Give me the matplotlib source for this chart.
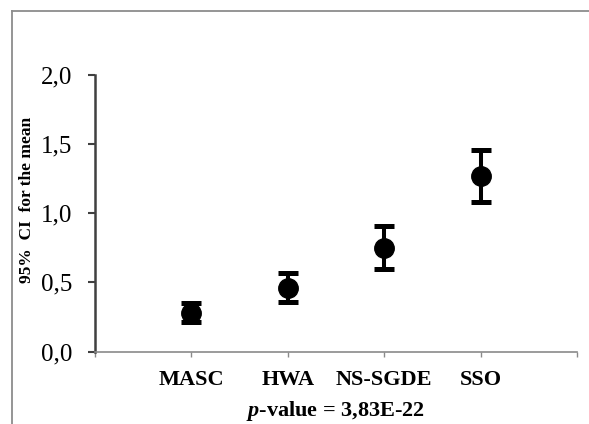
import matplotlib
matplotlib.use("Agg")
import matplotlib.pyplot as plt
from matplotlib.lines import Line2D

plt.rcParams['font.family'] = ['Liberation Serif', 'DejaVu Serif']
plt.rcParams['mathtext.fontset'] = 'custom'
plt.rcParams['mathtext.rm'] = 'Liberation Serif:bold'
plt.rcParams['mathtext.it'] = 'Liberation Serif:italic:bold'
plt.rcParams['mathtext.bf'] = 'Liberation Serif:bold'

categories = ['MASC', 'HWA', 'NS-SGDE', 'SSO']
means = [0.28, 0.46, 0.75, 1.27]
upper = [0.35, 0.57, 0.907, 1.456]
lower = [0.214, 0.354, 0.597, 1.08]
yticks = [0.0, 0.5, 1.0, 1.5, 2.0]
ytick_labels = ['0,0', '0,5', '1,0', '1,5', '2,0']
xlabel_text = r'$p$-value = 3,83E-22'
ylabel_text = '95%  CI  for the mean'

fig = plt.figure(figsize=(5.89, 4.24), dpi=100)
ax = fig.add_axes([95/589, 1-351.5/424, (577-95)/589, (351.5-74.5)/424])

xs = list(range(1, len(categories)+1))
yerr = [[m - lo for m, lo in zip(means, lower)], [u - m for m, u in zip(means, upper)]]
ax.errorbar(xs, means, yerr=yerr, fmt='o', color='black', ecolor='black',
            markersize=14, elinewidth=2.9, capsize=7.2, capthick=3.6, zorder=3)

ax.set_xlim(0, len(categories)+1)
ax.set_ylim(0, 2.0)
ax.set_yticks(yticks)
ax.set_yticklabels(ytick_labels, fontsize=18)
ax.set_xticks(range(0, len(categories)+2))
ax.set_xticklabels([''] + categories + [''], fontsize=16, fontweight='bold')

for s in ['top', 'right']:
    ax.spines[s].set_visible(False)
ax.spines['left'].set_color('#404040')
ax.spines['left'].set_linewidth(1.8)
ax.spines['bottom'].set_color('#8a8a8a')
ax.spines['bottom'].set_linewidth(1.2)
ax.tick_params(axis='y', direction='out', length=5, width=1.5, color='#404040', pad=11.5)
ax.tick_params(axis='x', direction='out', length=3.6, width=1.0, color='#8a8a8a', pad=10)

ax.set_xlabel(xlabel_text, fontsize=16, fontweight='bold', labelpad=6)
fig.text(27/589, 1-200/424, ylabel_text, rotation=90, fontsize=12.5, fontweight='bold',
         ha='center', va='center')

# outer frame (left and top edges)
fig.add_artist(Line2D([11.5/589, 11.5/589], [0, 1-10.5/424], transform=fig.transFigure,
                      color='#8c8c8c', linewidth=1.3))
fig.add_artist(Line2D([11.5/589, 1], [1-10.5/424, 1-10.5/424], transform=fig.transFigure,
                      color='#8c8c8c', linewidth=1.3))

fig.savefig('out.png', dpi=100)
